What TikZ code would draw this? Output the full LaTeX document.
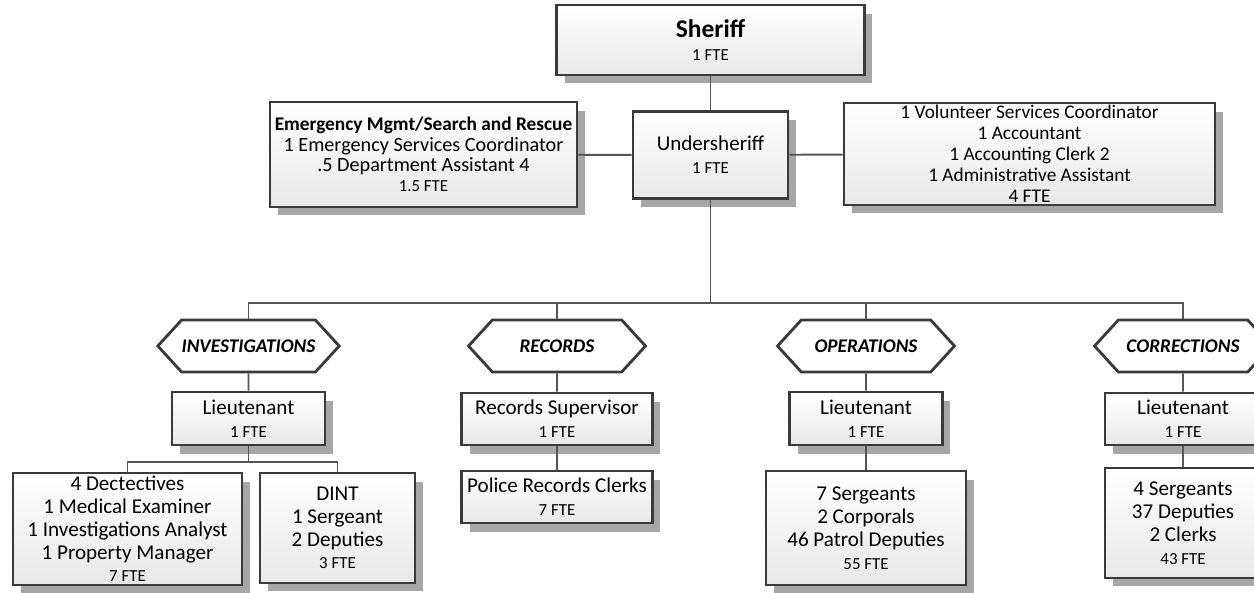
\documentclass[tikz,border=0pt]{standalone}
\usepackage{fontspec}
\setmainfont{Carlito}
\usetikzlibrary{shapes.symbols}
\usetikzlibrary{shadows}
\definecolor{edgegray}{HTML}{3A3A3A}
\definecolor{linegray}{HTML}{555555}
\definecolor{shadowgray}{HTML}{A6A6A6}
\newcommand{\fte}{\fontsize{9.6}{12}\selectfont}
\tikzset{
  box/.style={draw=edgegray, line width=1.6pt, top color=white, bottom color=black!9,
    align=center, inner xsep=1pt, inner ysep=0pt, font=\fontsize{12}{13}\selectfont,
    drop shadow={shadow xshift=0.16cm, shadow yshift=-0.17cm, fill=shadowgray, opacity=1}},
  hexa/.style={shape=signal, signal to=east and west, signal pointer angle=95,
    draw=edgegray, line width=1.6pt, fill=white, minimum width=3.54cm, minimum height=1.04cm,
    inner sep=0pt, font=\fontsize{11}{13}\selectfont\bfseries\itshape},
  link/.style={draw=linegray, line width=1.1pt}
}
\begin{document}
\begin{tikzpicture}[x=0.02cm,y=-0.02cm]
\clip(0,0) rectangle (1254,592);
% top of the chart
\node[box, minimum width=6.16cm, minimum height=1.40cm] (sheriff) at (710.5,40) {{\fontsize{14.5}{17}\selectfont\bfseries Sheriff}\\ \fte 1 FTE};
\node[box, minimum width=3.10cm, minimum height=1.74cm] (under) at (710.5,155) {Undersheriff\\ \fte 1 FTE};
\node[box, minimum width=6.14cm, minimum height=2.10cm, font=\fontsize{11.5}{11.5}\selectfont] (emerg) at (423.5,154.5) {{\fontsize{11}{11.5}\selectfont\bfseries Emergency Mgmt/Search and Rescue}\\ 1 Emergency Services Coordinator\\ .5 Department Assistant 4\\ \fte 1.5 FTE};
\node[box, minimum width=7.42cm, minimum height=2.04cm, font=\fontsize{11}{12}\selectfont] (volunt) at (1029.5,154) {1 Volunteer Services Coordinator\\ 1 Accountant\\ 1 Accounting Clerk 2\\ 1 Administrative Assistant\\ 4 FTE};
% divisions
\node[hexa] (invhex) at (248.5,346) {INVESTIGATIONS};
\node[hexa] (rechex) at (557,346) {RECORDS};
\node[hexa] (opshex) at (866,346) {OPERATIONS};
\node[hexa] (corhex) at (1183,346) {CORRECTIONS};
% investigations
\node[box, minimum width=3.06cm, minimum height=1.06cm] (invlt) at (248.5,418.5) {Lieutenant\\ \fte 1 FTE};
\node[box, minimum width=4.58cm, minimum height=2.24cm] (det) at (127.5,529) {4 Dectectives\\ 1 Medical Examiner\\ 1 Investigations Analyst\\ 1 Property Manager\\ \fte 7 FTE};
\node[box, minimum width=3.10cm, minimum height=2.20cm] (dint) at (337.5,528) {DINT\\ 1 Sergeant\\ 2 Deputies\\ \fte 3 FTE};
% records
\node[box, minimum width=3.82cm, minimum height=1.04cm] (recsup) at (557,419) {Records Supervisor\\ \fte 1 FTE};
\node[box, minimum width=3.82cm, minimum height=1.04cm] (recclk) at (557,497) {Police Records Clerks\\ \fte 7 FTE};
% operations
\node[box, minimum width=3.06cm, minimum height=1.06cm] (opslt) at (866,418.5) {Lieutenant\\ \fte 1 FTE};
\node[box, minimum width=4.00cm, minimum height=2.28cm] (opsbig) at (866,528) {7 Sergeants\\ 2 Corporals\\ 46 Patrol Deputies\\ \fte 55 FTE};
% corrections
\node[box, minimum width=3.12cm, minimum height=1.04cm] (corlt) at (1183,419) {Lieutenant\\ \fte 1 FTE};
\node[box, minimum width=3.12cm, minimum height=2.20cm] (corbig) at (1183,523) {4 Sergeants\\ 37 Deputies\\ 2 Clerks\\ \fte 43 FTE};
% connectors
\coordinate (bus) at (710.5,303);
\coordinate (invsplit) at (248.5,462);
\draw[link] (sheriff) -- (under);
\draw[link] (emerg) -- (under);
\draw[link] (under) -- (volunt);
\draw[link] (under) -- (bus);
\draw[link] (invhex) |- (bus) -| (corhex);
\draw[link] (rechex) -- (rechex |- bus);
\draw[link] (opshex) -- (opshex |- bus);
\draw[link] (invhex) -- (invlt);
\draw[link] (invlt) -- (invsplit);
\draw[link] (det) |- (invsplit) -| (dint);
\draw[link] (rechex) -- (recsup);
\draw[link] (recsup) -- (recclk);
\draw[link] (opshex) -- (opslt);
\draw[link] (opslt) -- (opsbig);
\draw[link] (corhex) -- (corlt);
\draw[link] (corlt) -- (corbig);
\end{tikzpicture}
\end{document}
